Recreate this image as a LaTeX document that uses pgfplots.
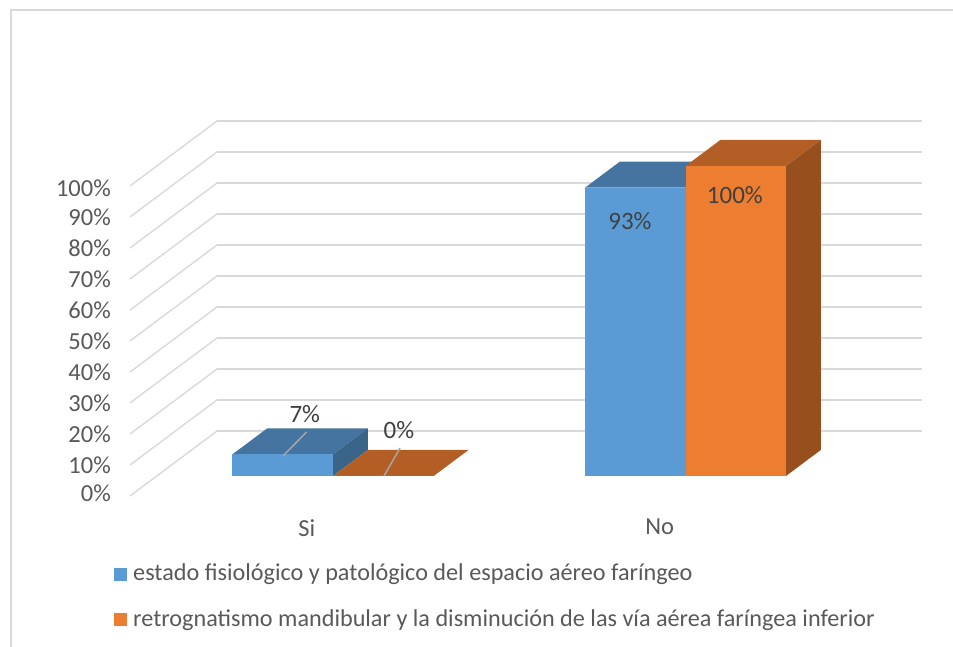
\documentclass[border=0pt]{standalone}
\usepackage{fontspec}
\setmainfont{Carlito}
\usepackage{pgfplots}
\pgfplotsset{compat=1.18}
\definecolor{gridc}{HTML}{D9D9D9}
\definecolor{txt}{HTML}{595959}
\definecolor{lbl}{HTML}{404040}
\definecolor{blueF}{HTML}{5B9BD5}
\definecolor{blueT}{HTML}{4574A0}
\definecolor{blueS}{HTML}{3A6589}
\definecolor{orF}{HTML}{ED7D31}
\definecolor{orT}{HTML}{B35E24}
\definecolor{orS}{HTML}{97501D}
\newcommand{\dA}{0.3077}
\newcommand{\dB}{0.7077}
% #1 left, #2 right, #3 value, #4 front, #5 top, #6 side
\newcommand{\barthree}[6]{%
  \addplot3[fill=#5,draw=none,forget plot] coordinates {(#1,\dA,#3) (#2,\dA,#3) (#2,\dB,#3) (#1,\dB,#3)} --cycle;
  \addplot3[fill=#6,draw=none,forget plot] coordinates {(#2,\dA,0) (#2,\dB,0) (#2,\dB,#3) (#2,\dA,#3)} --cycle;
  \addplot3[fill=#4,draw=none,forget plot] coordinates {(#1,\dA,0) (#2,\dA,0) (#2,\dA,#3) (#1,\dA,#3)} --cycle;
}
\begin{document}
\fontsize{24}{28}\selectfont
\begin{tikzpicture}[x=1pt,y=1pt,lab/.style={text=lbl,font=\fontsize{25}{28}\selectfont}]
\useasboundingbox (0,0) rectangle (953,647);
\draw[gridc,line width=2pt] (10.5,0) -- (10.5,636.5) -- (953,636.5);
\begin{axis}[
  at={(130pt,151pt)}, anchor=origin,
  x={(352.5pt,0pt)}, y={(87pt,65pt)}, z={(0pt,3.1pt)},
  xmin=0,xmax=2,ymin=0,ymax=1,zmin=0,zmax=100,
  clip=false,
  axis line style={draw=none},
  tick style={draw=none},
  xtick={0.5,1.5}, xticklabels={Si,No},
  ytick=\empty,
  ztick={0,10,...,100},
  zticklabels={0\%,10\%,20\%,30\%,40\%,50\%,60\%,70\%,80\%,90\%,100\%},
  zmajorgrids=true,
  major grid style={gridc,line width=1.4pt},
  ticklabel style={text=txt,font=\fontsize{24.5}{28}\selectfont},
  z tick label style={xshift=-11pt,yshift=10pt},
  x tick label style={xshift=9pt,yshift=-15pt},
  legend style={draw=none,fill=none,at={(-0.0242,-0.17)},anchor=north west,
    font=\fontsize{24.2}{28}\selectfont,text=txt,row sep=21pt,
    cells={anchor=west},
    /tikz/every even column/.append style={column sep=0pt}},
  legend cell align=left,
  legend image code/.code={\fill[#1,draw=none] (0pt,-6.5pt) rectangle (13pt,6.5pt); \path (17pt,0pt);},
]
\addlegendimage{fill=blueF}
\addlegendentry{estado fisiológico y patológico del espacio aéreo faríngeo}
\addlegendimage{fill=orF}
\addlegendentry{retrognatismo mandibular y la disminución de las vía aérea faríngea inferior}
\barthree{0.2148}{0.5}{7}{blueF}{blueT}{blueS}
\barthree{0.5}{0.785}{0}{orF}{orT}{orS}
\barthree{1.2148}{1.5}{93}{blueF}{blueT}{blueS}
\barthree{1.5}{1.785}{100}{orF}{orT}{orS}
\addplot3[color=black!35,line width=1.5pt,forget plot] coordinates {(0.358,\dA,6.45) (0.425,\dA,14.2)};
\addplot3[color=black!35,line width=1.5pt,forget plot] coordinates {(0.6445,\dA,0) (0.69,\dA,9)};
\node[lab] at (axis cs:0.42,\dA,20) {7\%};
\node[lab] at (axis cs:0.687,\dA,14.8) {0\%};
\node[lab] at (axis cs:1.3424,\dA,82.3) {93\%};
\node[lab] at (axis cs:1.640,\dA,90.6) {100\%};
\end{axis}
\end{tikzpicture}
\end{document}
